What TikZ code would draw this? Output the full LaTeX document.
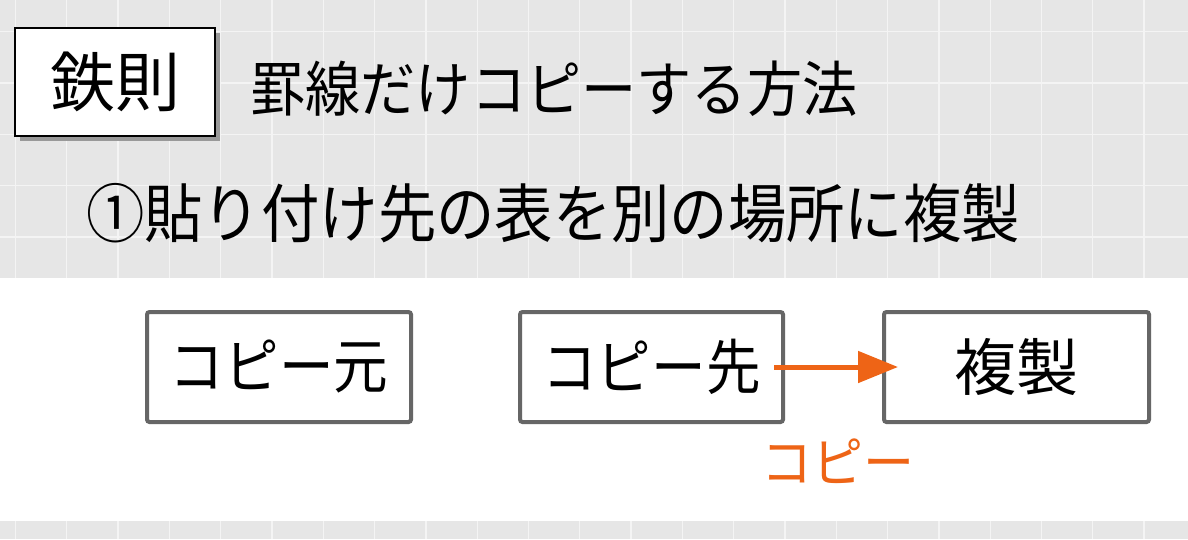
\documentclass[tikz,border=0pt]{standalone}
\usepackage{fontspec}
\setmainfont{Noto Sans CJK JP}
\usetikzlibrary{arrows.meta,calc}
\definecolor{bggray}{HTML}{E6E6E6}
\definecolor{gridline}{HTML}{F4F4F4}
\definecolor{boxgray}{HTML}{666666}
\definecolor{accent}{HTML}{EE6416}
\tikzset{
  panel/.style={draw=boxgray,line width=4pt,rounded corners=2.5pt,fill=white,
    minimum width=#1,minimum height=110pt,inner sep=0pt,
    font=\fontsize{60}{64}\selectfont},
  panel/.default=264pt,
  bigtext/.style={anchor=base west,inner sep=0pt,font=\fontsize{#1}{#1}\selectfont},
  flow/.style={draw=accent,line width=5pt,-{Triangle[length=40pt,width=31pt]}},
}
\begin{document}
\begin{tikzpicture}[x=1pt,y=-1pt]
\useasboundingbox (0,0) rectangle (1188,539);
\fill[white] (0,0) rectangle (1188,539);
\fill[bggray] (0,0) rectangle (1188,278);
\fill[bggray] (0,521) rectangle (1188,539);
\foreach \k in {0,...,23} {
  \draw[gridline,line width=1.3pt] ({15.5+51.3*\k},0) -- ({15.5+51.3*\k},278);
  \draw[gridline,line width=1.3pt] ({15.5+51.3*\k},521) -- ({15.5+51.3*\k},539);
}
\foreach \k in {0,...,4} {
  \draw[gridline,line width=1.3pt] (0,{31.7+51.3*\k}) -- (1188,{31.7+51.3*\k});
}
% title box with shadow
\fill[black!40] (20,33) rectangle (220,141);
\node[draw=black,line width=1.5pt,fill=white,minimum width=200pt,minimum height=108pt,inner sep=0pt,
  font=\fontsize{65}{68}\selectfont] (rule) at (115,82) {鉄則};
\node[bigtext=60] (title) at (250,111) {\scalebox{0.92}[1]{罫線だけコピーする方法}};
\node[bigtext=64] (step) at (86,237) {\scalebox{0.912}[1]{①貼り付け先の表を別の場所に複製}};
% boxes
\node[panel] (src) at (279,367) {\scalebox{0.91}[1]{コピー元}};
\node[panel=263pt] (dst) at (651.5,367) {\scalebox{0.91}[1]{コピー先}};
\node[panel=265pt,font=\fontsize{62}{64}\selectfont] (dup) at (1016.5,367) {複製};
\draw[flow] ($(dst.east)+(-11,0)$) -- ($(dup.west)+(16,0)$);
\node[inner sep=0pt,anchor=base,text=accent,font=\fontsize{54}{56}\selectfont] (lbl) at (838,482) {\scalebox{0.945}[1]{コピー}};
\end{tikzpicture}
\end{document}
